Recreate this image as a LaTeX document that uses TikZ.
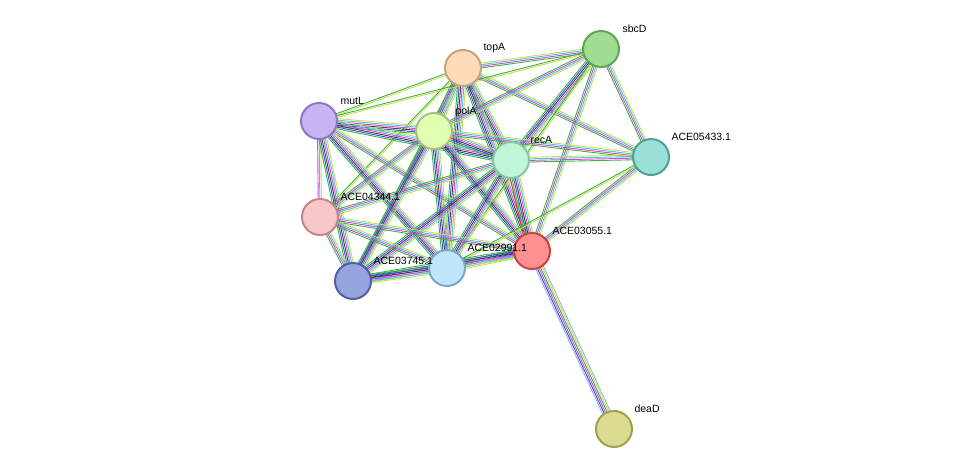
\documentclass[tikz,border=0pt]{standalone}
\usepackage{fontspec}
\setmainfont{Liberation Sans}
\usetikzlibrary{calc,backgrounds}
\definecolor{eG}{HTML}{3CB43C}\definecolor{eB}{HTML}{3050E0}\definecolor{eM}{HTML}{E040E0}
\definecolor{eC}{HTML}{40C8E0}\definecolor{eY}{HTML}{C8DC50}\definecolor{eK}{HTML}{404040}
\definecolor{eL}{HTML}{90B0F0}\definecolor{eR}{HTML}{E03030}
\definecolor{f1}{HTML}{FFDAB9}\definecolor{d1}{HTML}{C8A27F}
\definecolor{f2}{HTML}{A0DD90}\definecolor{d2}{HTML}{5EA55A}
\definecolor{f3}{HTML}{C8B4F0}\definecolor{d3}{HTML}{8C78C8}
\definecolor{f4}{HTML}{E0FFB0}\definecolor{d4}{HTML}{A8C080}
\definecolor{f5}{HTML}{C0F5D8}\definecolor{d5}{HTML}{80C8A0}
\definecolor{f6}{HTML}{98E0D8}\definecolor{d6}{HTML}{50A098}
\definecolor{f7}{HTML}{F8C8C8}\definecolor{d7}{HTML}{C08888}
\definecolor{f8}{HTML}{FF9090}\definecolor{d8}{HTML}{CC4444}
\definecolor{f9}{HTML}{C0E4FA}\definecolor{d9}{HTML}{78A8C8}
\definecolor{f10}{HTML}{98A4E0}\definecolor{d10}{HTML}{5060A0}
\definecolor{f11}{HTML}{DCDC90}\definecolor{d11}{HTML}{A0A050}
\newcommand\edg[3]{%
 \foreach \c [count=\i] in #3 {\xdef\nn{\i}}%
 \foreach \c [count=\i] in #3 {\pgfmathsetmacro\o{(\i-(\nn+1)/2)*1.6}%
   \draw[draw=\c, line width=0.9pt] ($(#1)!\o pt!90:(#2)$) -- ($(#2)!\o pt!-90:(#1)$);}}
\def\F{eG,eB,eK,eM,eC,eY}\def\G{eG,eM,eC,eY}\def\H{eG,eY}\def\T{eM,eC,eY}
\def\R{eR,eG,eB,eK,eM,eC,eY}\def\D{eL,eB,eM,eG,eY,eL}
\tikzset{prot/.style={circle,minimum size=36pt,inner sep=0pt,line width=2pt},
 lab/.style={font=\fontsize{10.5}{12}\selectfont,anchor=base west}}
\begin{document}
\begin{tikzpicture}[x=1pt,y=-1pt]
\useasboundingbox (0,0) rectangle (975,475);
\node[prot,fill=f1,draw=d1] (topA) at (463,68) {};
\node[prot,fill=f2,draw=d2] (sbcD) at (601,49) {};
\node[prot,fill=f3,draw=d3] (mutL) at (319,121) {};
\node[prot,fill=f4,draw=d4] (polA) at (434,131) {};
\node[prot,fill=f5,draw=d5] (recA) at (511,160) {};
\node[prot,fill=f6,draw=d6] (e5433) at (651,157) {};
\node[prot,fill=f7,draw=d7] (e4344) at (320,217) {};
\node[prot,fill=f8,draw=d8] (e3055) at (532,251) {};
\node[prot,fill=f9,draw=d9] (e2991) at (447,268) {};
\node[prot,fill=f10,draw=d10] (e3745) at (353,281) {};
\node[prot,fill=f11,draw=d11] (deaD) at (614,429) {};
\begin{scope}[on background layer]
\edg{topA}{sbcD}{\G}\edg{topA}{mutL}{\H}\edg{topA}{polA}{\F}\edg{topA}{recA}{\F}
\edg{topA}{e5433}{\G}\edg{topA}{e4344}{\H}\edg{topA}{e3055}{\F}\edg{topA}{e2991}{\F}\edg{topA}{e3745}{\G}
\edg{sbcD}{polA}{\G}\edg{sbcD}{recA}{\F}\edg{sbcD}{e5433}{\G}\edg{sbcD}{e3055}{\G}\edg{sbcD}{mutL}{\H}\edg{sbcD}{e2991}{\H}
\edg{mutL}{polA}{\F}\edg{mutL}{recA}{\F}\edg{mutL}{e4344}{\T}\edg{mutL}{e3055}{\G}\edg{mutL}{e2991}{\F}\edg{mutL}{e3745}{\F}
\edg{polA}{recA}{\F}\edg{polA}{e5433}{\G}\edg{polA}{e4344}{\G}\edg{polA}{e3055}{\F}\edg{polA}{e2991}{\F}\edg{polA}{e3745}{\F}
\edg{recA}{e5433}{\G}\edg{recA}{e4344}{\G}\edg{recA}{e3055}{\R}\edg{recA}{e2991}{\F}\edg{recA}{e3745}{\F}
\edg{e5433}{e3055}{\G}\edg{e5433}{e2991}{\H}
\edg{e4344}{e3055}{\G}\edg{e4344}{e2991}{\G}\edg{e4344}{e3745}{\G}
\edg{e3055}{e2991}{\F}\edg{e3055}{e3745}{\F}\edg{e2991}{e3745}{\F}
\edg{e3055}{deaD}{\D}
\end{scope}
\node[lab] (l1) at (480,50) {topA};
\node[lab] (l2) at (619,32) {sbcD};
\node[lab] (l3) at (337,104) {mutL};
\node[lab] (l4) at (452,114) {polA};
\node[lab] (l5) at (527,143) {recA};
\node[lab] (l6) at (668,140) {ACE05433.1};
\node[lab] (l7) at (337,200) {ACE04344.1};
\node[lab] (l8) at (549,234) {ACE03055.1};
\node[lab] (l9) at (464,251) {ACE02991.1};
\node[lab] (l10) at (370,264) {ACE03745.1};
\node[lab] (l11) at (631,412) {deaD};
\end{tikzpicture}
\end{document}
